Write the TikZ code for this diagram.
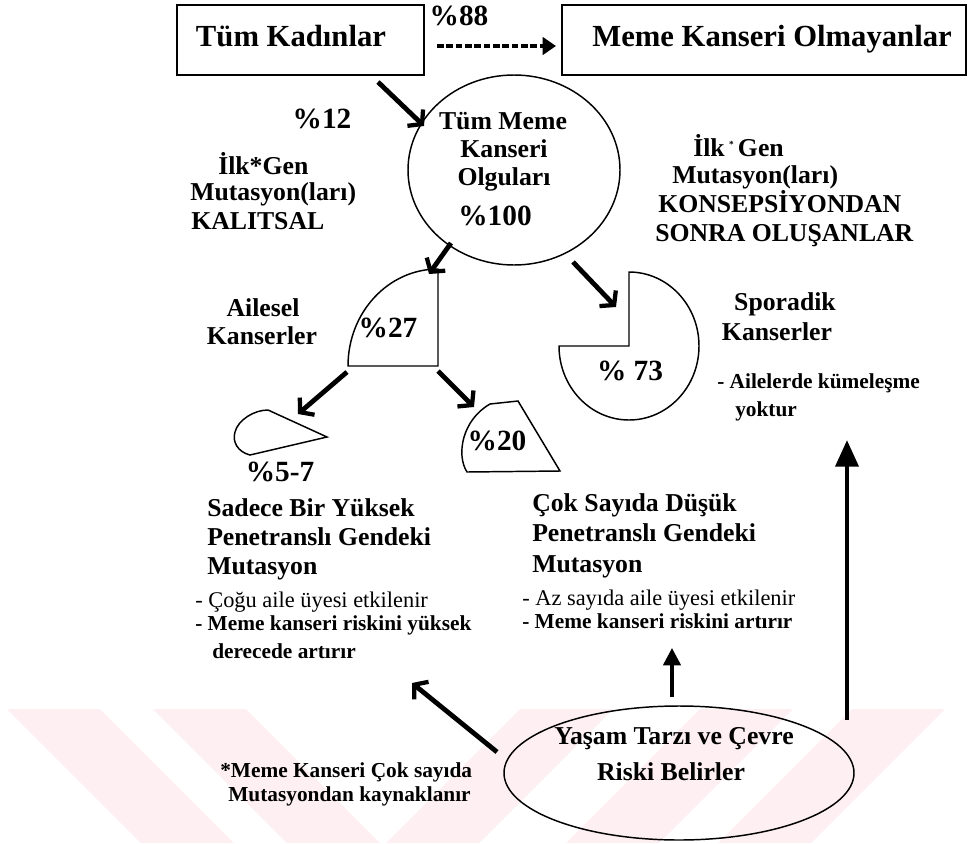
\documentclass[tikz,border=0pt]{standalone}
\usepackage{fontspec}
\setmainfont{Liberation Serif}
\usetikzlibrary{arrows.meta,shapes.geometric}
\definecolor{wm}{RGB}{253,239,242}
\begin{document}
\begin{tikzpicture}[x=0.75pt,y=-0.75pt,
  boxnode/.style={draw,line width=1.1pt,inner sep=0pt,outer sep=0pt},
  txt/.style={inner sep=0pt,text height=0.66em,text depth=0pt},
  topfont/.style={txt,font=\fontsize{23}{27}\selectfont\bfseries},
  bodyfont/.style={txt,font=\fontsize{19.3}{22}\selectfont\bfseries},
  pctfont/.style={txt,font=\fontsize{22}{26}\selectfont\bfseries},
  smallfont/.style={txt,font=\fontsize{16.8}{19}\selectfont},
  smallbold/.style={txt,font=\fontsize{16}{19}\selectfont\bfseries},
  heavy/.style={line width=3.6pt,-{Straight Barb[length=7pt,width=17pt,line width=3.2pt]}},
  upar/.style={line width=3.6pt,-{Triangle[length=20pt,width=17pt]}},
  smallup/.style={line width=2.6pt,-{Triangle[length=13pt,width=13pt]}},
  pie/.style={draw,line width=1.1pt},
  wmband/.style={fill=wm,draw=none},
]
\useasboundingbox (0,0) rectangle (968,843);
\fill[white] (0,0) rectangle (968,843);
% watermark bands
\begin{scope}
\clip (0,709) rectangle (968,843);
\fill[wmband] (7,709) -- (100,709) -- (234,843) -- (141,843) -- cycle;
\fill[wmband] (153,709) -- (246,709) -- (380,843) -- (287,843) -- cycle;
\fill[wmband] (520,709) -- (613,709) -- (479,843) -- (386,843) -- cycle;
\fill[wmband] (700,709) -- (793,709) -- (659,843) -- (566,843) -- cycle;
\fill[wmband] (852,709) -- (945,709) -- (811,843) -- (718,843) -- cycle;
\end{scope}

% top boxes
\node[boxnode,minimum width=185pt,minimum height=52.5pt] (kad) at (300.5,40) {};
\node[topfont] (kadt) at (291,42) {Tüm Kadınlar};
\node[boxnode,minimum width=303pt,minimum height=52.5pt] (olm) at (764,40) {};
\node[topfont] (olmt) at (772,42) {Meme Kanseri Olmayanlar};
\node[pctfont] (p88) at (459,21) {\%88};
\coordinate (d1) at (437,46);
\coordinate (d2) at (556,46);
\draw[line width=3pt,dash pattern=on 5pt off 2pt,-{Triangle[length=10pt,width=13pt]}] (d1) -- (d2);

% big circle
\node[draw,ellipse,line width=1.1pt,minimum width=159pt,minimum height=142.5pt,inner sep=0pt] (all) at (514,170) {};
\node[bodyfont] (all1) at (503,125) {Tüm Meme};
\node[bodyfont] (all2) at (504,153) {Kanseri};
\node[bodyfont] (all3) at (504,181) {Olguları};
\node[pctfont] (all4) at (495,221) {\%100};
\node[pctfont] (p12) at (322,124) {\%12};

% left heading
\node[bodyfont,anchor=west] (l1) at (218,170) {İlk*Gen};
\node[bodyfont,anchor=west] (l2) at (190,196) {Mutasyon(ları)};
\node[bodyfont,anchor=west] (l3) at (191,225) {KALITSAL};
% right heading
\node[bodyfont,anchor=west] (r1) at (693,152) {İlk\,\raisebox{0.35em}{\scriptsize *}\,Gen};
\node[bodyfont,anchor=west] (r2) at (672,179) {Mutasyon(ları)};
\node[bodyfont,anchor=west] (r3) at (658,208) {KONSEPSİYONDAN};
\node[bodyfont,anchor=west] (r4) at (655,237) {SONRA OLUŞANLAR};

% arrows from top
\coordinate (a1s) at (378,82);
\coordinate (a1e) at (424,126);
\draw[heavy] (a1s) -- (a1e);
\coordinate (a2s) at (451,243);
\coordinate (a2e) at (429,274);
\draw[heavy] (a2s) -- (a2e);
\coordinate (a5s) at (573,262);
\coordinate (a5e) at (616,307);
\draw[heavy] (a5s) -- (a5e);

% %27 sector
\draw[pie] (438,366) -- (438,269) arc[start angle=-90,end angle=-180,x radius=90,y radius=97] -- cycle;
\node[pctfont] (p27) at (388,333) {\%27};
\node[bodyfont] (ail1) at (263,312) {Ailesel};
\node[bodyfont] (ail2) at (262,340) {Kanserler};

% arrows from %27
\coordinate (a3s) at (347,372);
\coordinate (a3e) at (298,414);
\draw[heavy] (a3s) -- (a3e);
\coordinate (a4s) at (438,371);
\coordinate (a4e) at (474,407);
\draw[heavy] (a4s) -- (a4e);

% %5-7 shape
\draw[pie] (268,410) -- (327,437) -- (250,455) .. controls (238,452) and (232,442) .. (235,432) .. controls (238,420) and (254,410) .. (268,410) -- cycle;
\node[pctfont] (p57) at (280,477) {\%5-7};

% %20 shape
\draw[pie] (490,404) -- (518,401) -- (560,471) -- (467,472) .. controls (456,455) and (462,420) .. (490,404) -- cycle;
\node[pctfont] (p20) at (497,446) {\%20};

% %73 shape
\draw[pie] (629,346) -- (629,272) arc[start angle=-90,end angle=180,x radius=70,y radius=74] -- cycle;
\node[pctfont] (p73) at (630,376) {\% 73};
\node[bodyfont] (sp1) at (785,306) {Sporadik};
\node[bodyfont] (sp2) at (777,336) {Kanserler};
\node[smallbold,anchor=west] (sp3) at (717,384) {- Ailelerde kümeleşme};
\node[smallbold,anchor=west] (sp4) at (735,412) {yoktur};

% left lower block
\node[bodyfont,anchor=west] (s1) at (207,512) {Sadece Bir Yüksek};
\node[bodyfont,anchor=west] (s2) at (207,541) {Penetranslı Gendeki};
\node[bodyfont,anchor=west] (s3) at (207,570) {Mutasyon};
\node[smallfont,anchor=west] (s4) at (195,603) {- Çoğu aile üyesi etkilenir};
\node[smallbold,anchor=west] (s5) at (195,626) {- Meme kanseri riskini yüksek};
\node[smallbold,anchor=west] (s6) at (212,654) {derecede artırır};

% right lower block
\node[bodyfont,anchor=west] (c1) at (532,507) {Çok Sayıda Düşük};
\node[bodyfont,anchor=west] (c2) at (532,537) {Penetranslı Gendeki};
\node[bodyfont,anchor=west] (c3) at (532,568) {Mutasyon};
\node[smallfont,anchor=west] (c4) at (522,601) {- Az sayıda aile üyesi etkilenir};
\node[smallbold,anchor=west] (c5) at (522,624) {- Meme kanseri riskini artırır};

% bottom ellipse
\node[draw,ellipse,line width=1.1pt,minimum width=262.5pt,minimum height=100.5pt,inner sep=0pt] (yas) at (679,773) {};
\node[bodyfont] (yas1) at (674,740) {Yaşam Tarzı ve Çevre};
\node[bodyfont] (yas2) at (671,776) {Riski Belirler};

\node[smallbold,anchor=west] (f1) at (220,773) {*Meme Kanseri Çok sayıda};
\node[smallbold,anchor=west] (f2) at (228,797) {Mutasyondan kaynaklanır};

% bottom arrows
\coordinate (a7s) at (497,752);
\coordinate (a7e) at (412,683);
\draw[heavy] (a7s) -- (a7e);
\coordinate (a8s) at (672,697);
\coordinate (a8e) at (672,648);
\draw[smallup] (a8s) -- (a8e);
\coordinate (a9s) at (847,720);
\coordinate (a9e) at (847,440);
\draw[upar] (a9s) -- (a9e);
\end{tikzpicture}
\end{document}
